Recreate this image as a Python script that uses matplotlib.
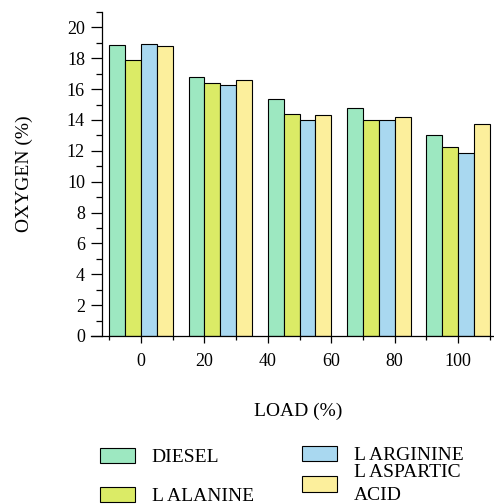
import numpy as np
import matplotlib
matplotlib.use("Agg")
import matplotlib.pyplot as plt
from matplotlib.ticker import MultipleLocator, FixedLocator

plt.rcParams["font.family"] = ["Liberation Serif", "DejaVu Serif"]

# load positions of the groups and the tick labels under them
loads = [0, 25, 50, 75, 100]
tick_values = [0, 20, 40, 60, 80, 100]

# oxygen (%)
diesel = [18.85, 16.76, 15.36, 14.78, 13.03]
l_alanine = [17.9, 16.4, 14.37, 14.02, 12.23]
l_arginine = [18.92, 16.29, 13.98, 14.0, 11.84]
l_aspartic = [18.81, 16.57, 14.32, 14.22, 13.77]

series = [
    ("DIESEL", diesel, "#9de8c1"),
    ("L ALANINE", l_alanine, "#dbeb66"),
    ("L ARGININE", l_arginine, "#a9d8f0"),
    ("L ASPARTIC\nACID", l_aspartic, "#fcef9c"),
]

fig = plt.figure(figsize=(4.94, 5.04), dpi=100)
ax = fig.add_axes([91 / 494, 1 - 336 / 504, 402 / 494, 324 / 504])

bar_w = 5
handles = []
for i, (name, vals, col) in enumerate(series):
    x = np.array(loads) + (i - 1.5) * bar_w
    b = ax.bar(x, vals, width=bar_w, color=col, edgecolor="black", linewidth=0.8, label=name)
    handles.append(b)

ax.set_xlim(-15.75, 111)
ax.set_ylim(0, 21)

ax.spines["top"].set_visible(False)
ax.spines["right"].set_visible(False)
ax.spines["left"].set_position(("data", -12.4))
for s in ["left", "bottom"]:
    ax.spines[s].set_linewidth(0.9)

ax.xaxis.set_major_locator(FixedLocator(tick_values))
ax.xaxis.set_minor_locator(FixedLocator([-10, 10, 30, 50, 70, 90, 110]))
ax.yaxis.set_major_locator(MultipleLocator(2))
ax.yaxis.set_minor_locator(MultipleLocator(1))

ax.tick_params(axis="x", which="major", direction="out", length=5, width=0.9, pad=7, labelsize=13)
ax.tick_params(axis="x", which="minor", direction="out", length=3, width=0.9)
ax.tick_params(axis="y", which="major", direction="out", length=8, width=0.9, pad=4, labelsize=13)
ax.tick_params(axis="y", which="minor", direction="out", length=4.5, width=0.9)

ax.set_ylabel("OXYGEN (%)", fontsize=14)
ax.yaxis.set_label_coords(-0.145, 0.5)
ax.set_xlabel("LOAD (%)", fontsize=14)
ax.xaxis.set_label_coords(0.515, -0.205)

leg_kw = dict(frameon=False, fontsize=14, loc="upper left", borderpad=0, borderaxespad=0,
              handlelength=1.8, handleheight=0.83, handletextpad=0.85)
leg1 = fig.legend(handles[:2], [s[0] for s in series[:2]], bbox_to_anchor=(100 / 494, 1 - 448 / 504),
                  labelspacing=1.05, **leg_kw)
leg2 = fig.legend(handles[2:], [s[0] for s in series[2:]], bbox_to_anchor=(302 / 494, 1 - 446 / 504),
                  labelspacing=-0.02, **leg_kw)
for t in leg2.get_texts():
    t.set_linespacing(1.5)
for leg in (leg1, leg2):
    for p in leg.get_patches():
        p.set_linewidth(0.8)

fig.savefig("out.png", dpi=100)
